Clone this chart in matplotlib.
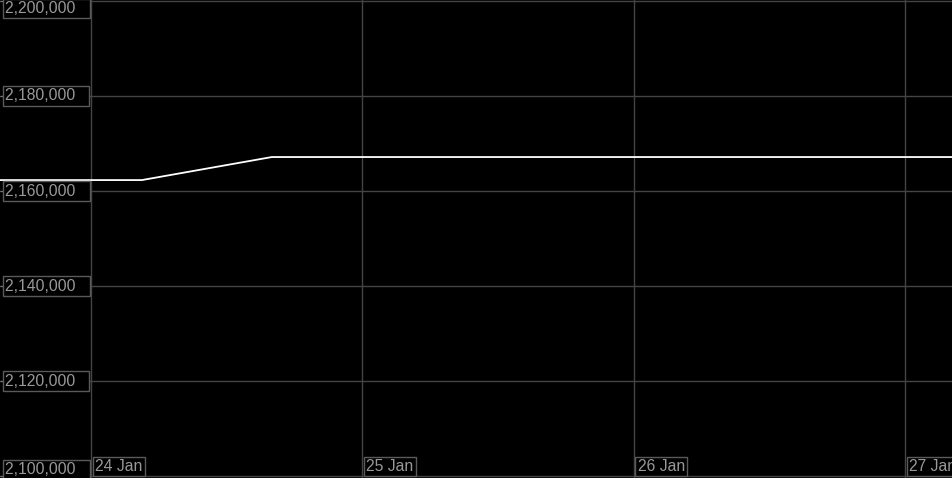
import pandas as pd
import matplotlib
matplotlib.use("Agg")
import matplotlib.pyplot as plt
import matplotlib.dates as mdates

# values
times = pd.to_datetime(["2024-01-23 16:00", "2024-01-24 04:30",
                        "2024-01-24 16:00", "2024-01-27 05:00"])
values = [2162300, 2162300, 2167150, 2167150]

y_ticks = [2100000, 2120000, 2140000, 2160000, 2180000, 2200000]
x_ticks = pd.to_datetime(["2024-01-24", "2024-01-25", "2024-01-26", "2024-01-27"])
x_labels = ["24 Jan", "25 Jan", "26 Jan", "27 Jan"]

plt.rcParams['font.family'] = ['Liberation Sans', 'DejaVu Sans']

fig = plt.figure(figsize=(9.53, 4.78), dpi=100, facecolor='black')
ax = fig.add_axes([0, 0, 1, 1], facecolor='black')

ax.plot(times, values, color='white', linewidth=1.3)

# axis ranges chosen so the grid lands where it does in the picture
day0 = mdates.date2num(x_ticks[0])
ax.set_xlim(day0 - 91 / 271.5, day0 + 3 + 48 / 271.5)
ax.set_ylim(2100000 - 2 * 210.5, 2200000 + 1 * 210.5)

ax.set_yticks(y_ticks)
ax.set_xticks(x_ticks)
ax.grid(True, color='#444444', linewidth=1)
ax.tick_params(axis='y', direction='in', length=3, color='#777777',
               labelleft=False)
ax.tick_params(axis='x', length=0, labelbottom=False)
for s in ax.spines.values():
    s.set_visible(False)

box = dict(boxstyle='square,pad=0.15', facecolor='black',
           edgecolor='#5a5a5a', linewidth=1)
lo, hi = ax.get_ylim()
for v in y_ticks:
    if v == max(y_ticks):
        y, va = hi, 'top'
    elif v == min(y_ticks):
        y, va = lo, 'bottom'
    else:
        y, va = v, 'center'
    ax.annotate(f"{v:,}  \u2009", xy=(0, y), xycoords=('axes fraction', 'data'),
                xytext=(5, -1 if va == 'top' else (1 if va == 'bottom' else 0)),
                textcoords='offset pixels', ha='left', va=va,
                fontsize=11.3, color='#999999', bbox=box)

for t, lab in zip(x_ticks, x_labels):
    ax.annotate(lab, xy=(t, 0), xycoords=('data', 'axes fraction'),
                xytext=(4, 4), textcoords='offset pixels', ha='left',
                va='bottom', fontsize=11.3, color='#999999', bbox=box,
                annotation_clip=False)

plt.savefig("out.png", dpi=100, facecolor='black')
